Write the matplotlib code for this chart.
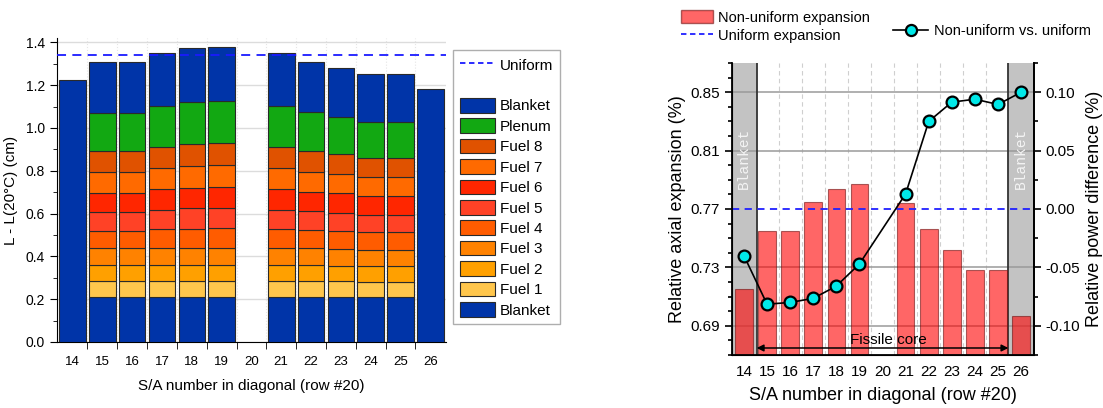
import numpy as np
import matplotlib
matplotlib.use('Agg')
import matplotlib.pyplot as plt
from matplotlib.patches import Patch
from matplotlib.lines import Line2D
from matplotlib.ticker import MultipleLocator, FormatStrFormatter

plt.rcParams['font.family'] = ['Liberation Sans', 'DejaVu Sans']

# ---- data: left panel (cumulative tops of stacked layers, cm) ----
sa = [14, 15, 16, 17, 18, 19, 20, 21, 22, 23, 24, 25, 26]
nan = np.nan
blanket_lo = [1.224, 0.210, 0.210, 0.210, 0.210, 0.210, nan, 0.210, 0.210, 0.210, 0.210, 0.210, 1.184]
fuel1 = [nan, 0.283, 0.283, 0.283, 0.283, 0.283, nan, 0.283, 0.283, 0.283, 0.280, 0.280, nan]
fuel2 = [nan, 0.358, 0.358, 0.358, 0.358, 0.358, nan, 0.358, 0.358, 0.357, 0.353, 0.353, nan]
fuel3 = [nan, 0.437, 0.437, 0.437, 0.438, 0.440, nan, 0.437, 0.437, 0.434, 0.431, 0.431, nan]
fuel4 = [nan, 0.518, 0.518, 0.527, 0.530, 0.532, nan, 0.527, 0.521, 0.518, 0.512, 0.512, nan]
fuel5 = [nan, 0.605, 0.605, 0.618, 0.624, 0.625, nan, 0.618, 0.611, 0.604, 0.594, 0.594, nan]
fuel6 = [nan, 0.697, 0.697, 0.714, 0.720, 0.725, nan, 0.714, 0.702, 0.695, 0.680, 0.680, nan]
fuel7 = [nan, 0.792, 0.792, 0.812, 0.823, 0.826, nan, 0.812, 0.796, 0.784, 0.770, 0.770, nan]
fuel8 = [nan, 0.890, 0.890, 0.913, 0.925, 0.929, nan, 0.913, 0.894, 0.877, 0.860, 0.860, nan]
plenum = [nan, 1.072, 1.072, 1.104, 1.120, 1.126, nan, 1.104, 1.075, 1.053, 1.030, 1.030, nan]
blanket_hi = [nan, 1.310, 1.310, 1.352, 1.372, 1.380, nan, 1.349, 1.310, 1.282, 1.252, 1.252, nan]
uniform_len = 1.342

layers = [blanket_lo, fuel1, fuel2, fuel3, fuel4, fuel5, fuel6, fuel7, fuel8, plenum, blanket_hi]
layer_names = ['Blanket', 'Fuel 1', 'Fuel 2', 'Fuel 3', 'Fuel 4', 'Fuel 5', 'Fuel 6',
               'Fuel 7', 'Fuel 8', 'Plenum', 'Blanket']
layer_colors = ['#0034A8', '#FFC64C', '#FFA000', '#FF8200', '#FF5C00', '#FF4226',
                '#FF2600', '#FF6A00', '#E05200', '#12A812', '#0034A8']

# ---- data: right panel ----
sa_bar = [14, 15, 16, 17, 18, 19, 21, 22, 23, 24, 25, 26]
rel_exp = [0.715, 0.755, 0.755, 0.775, 0.784, 0.787, 0.774, 0.756, 0.742, 0.728, 0.728, 0.697]
uniform_exp = 0.77
sa_line = [14, 15, 16, 17, 18, 19, 21, 22, 23, 24, 25, 26]
power_diff = [-0.040, -0.0815, -0.080, -0.0765, -0.066, -0.047, 0.013, 0.075, 0.0915, 0.094, 0.0895, 0.100]

fig = plt.figure(figsize=(11.03, 4.08), dpi=100)

# ================= left panel =================
ax = fig.add_axes([0.0517, 0.1618, 0.3525, 0.745])
prev = np.zeros(len(sa))
for top, name, col in zip(layers, layer_names, layer_colors):
    top = np.array(top, dtype=float)
    h = top - prev
    ok = np.isfinite(h)
    ax.bar(np.array(sa)[ok], h[ok], bottom=prev[ok], width=0.89, color=col,
           edgecolor='#2a2a2a', linewidth=0.8, zorder=3)
    prev = np.where(np.isfinite(top), top, prev)
ax.axhline(uniform_len, color='#1a1aff', ls=(0, (5, 3.5)), lw=1.3, zorder=4)

ax.set_xlim(13.48, 26.52)
ax.set_ylim(0, 1.42)
ax.set_xticks(sa)
ax.set_xticks(np.array(sa[:-1]) + 0.5, minor=True)
ax.tick_params(axis='x', which='major', length=0, labelsize=9.5, pad=10)
ax.tick_params(axis='x', which='minor', length=5, direction='out')
ax.yaxis.set_major_locator(MultipleLocator(0.2))
ax.yaxis.set_minor_locator(MultipleLocator(0.1))
ax.yaxis.set_major_formatter(FormatStrFormatter('%.1f'))
ax.tick_params(axis='y', which='major', length=5, labelsize=10)
ax.tick_params(axis='y', which='minor', length=3)
for s in ['top', 'right']:
    ax.spines[s].set_visible(False)
ax.grid(axis='y', which='major', color='#dcdcdc', lw=1)
ax.grid(axis='x', which='minor', color='#e6e6e6', lw=0.8, ls=':')
ax.set_axisbelow(True)
ax.set_xlabel('S/A number in diagonal (row #20)', fontsize=11, labelpad=8)
ax.set_ylabel('L - L(20°C) (cm)', fontsize=11, labelpad=6)

handles = [Line2D([], [], color='#1a1aff', ls=(0, (3, 2)), lw=1.3),
           Line2D([], [], ls='none')]
labels = ['Uniform', '']
for name, col in list(zip(layer_names, layer_colors))[::-1]:
    handles.append(Patch(facecolor=col, edgecolor='#2a2a2a', linewidth=0.8))
    labels.append(name)
leg = fig.legend(handles, labels, loc='upper left', bbox_to_anchor=(0.4107, 0.877),
                 fontsize=11, frameon=True, fancybox=False, edgecolor='#9a9a9a',
                 handlelength=2.3, handleheight=1.1, labelspacing=0.32,
                 handletextpad=0.3, borderpad=0.45, borderaxespad=0)
leg.get_frame().set_linewidth(1.0)

# ================= right panel =================
ax2 = fig.add_axes([0.6634, 0.1299, 0.2741, 0.7157])
ax2.set_xlim(13.47, 26.56)
ax2.set_ylim(0.67, 0.87)
ax2.axvspan(13.47, 14.55, color='#c3c3c3', zorder=1, lw=0)
ax2.axvspan(25.45, 26.56, color='#c3c3c3', zorder=1, lw=0)
ax2.axvline(14.55, color='#333333', lw=1.3, zorder=1.5)
ax2.axvline(25.45, color='#333333', lw=1.3, zorder=1.5)
for xv in np.array(sa[1:-2]) + 0.5:
    ax2.axvline(xv, color='#cfcfcf', lw=0.8, ls=(0, (4, 3)), zorder=0.5)
for yv in [0.69, 0.73, 0.81, 0.85]:
    ax2.axhline(yv, color='#9a9a9a', lw=1.1, zorder=1.2)
ax2.bar(sa_bar, rel_exp, width=0.76, color='red', alpha=0.6, edgecolor='#701010',
        linewidth=0.8, zorder=2)
ax2.axhline(uniform_exp, color='#2020ff', ls=(0, (4, 3)), lw=1.3, zorder=2.5)

ax2.text(14.0, 0.805, 'Blanket', rotation=90, ha='center', va='center',
         family='Liberation Mono', fontsize=10.5, color='#f4f4f4', zorder=3)
ax2.text(26.0, 0.805, 'Blanket', rotation=90, ha='center', va='center',
         family='Liberation Mono', fontsize=10.5, color='#f4f4f4', zorder=3)
ax2.annotate('', xy=(14.55, 0.6748), xytext=(25.45, 0.6748),
             arrowprops=dict(arrowstyle='<|-|>', color='black', lw=1.1,
                             mutation_scale=10, shrinkA=0, shrinkB=0), zorder=3)
ax2.text(20.25, 0.6755, 'Fissile core', ha='center', va='bottom', fontsize=11, zorder=3)

ax2.set_xticks(sa)
ax2.tick_params(axis='x', length=0, labelsize=11, pad=7)
ax2.set_yticks([0.69, 0.73, 0.77, 0.81, 0.85])
ax2.yaxis.set_minor_locator(MultipleLocator(0.01))
ax2.yaxis.set_major_formatter(FormatStrFormatter('%.2f'))
ax2.tick_params(axis='y', which='major', length=5, width=1.2, labelsize=11)
ax2.tick_params(axis='y', which='minor', length=3, width=1.2)
ax2.spines['top'].set_visible(False)
for s in ['left', 'bottom', 'right']:
    ax2.spines[s].set_linewidth(1.3)
ax2.set_xlabel('S/A number in diagonal (row #20)', fontsize=13, labelpad=6)
ax2.set_ylabel('Relative axial expansion (%)', fontsize=13, labelpad=3)

ax3 = ax2.twinx()
ax3.set_ylim(-0.125, 0.125)
ax3.plot(sa_line, power_diff, color='black', lw=1.2, marker='o', ms=8.5,
         mfc='#00E8E8', mec='black', mew=1.6, zorder=5)
ax3.set_yticks([-0.10, -0.05, 0.00, 0.05, 0.10])
ax3.yaxis.set_minor_locator(MultipleLocator(0.025))
ax3.yaxis.set_major_formatter(FormatStrFormatter('%.2f'))
ax3.tick_params(axis='y', which='major', length=5, width=1.2, labelsize=11)
ax3.tick_params(axis='y', which='minor', length=3, width=1.2)
ax3.spines['top'].set_visible(False)
ax3.spines['right'].set_linewidth(1.3)
ax3.set_ylabel('Relative power difference (%)', fontsize=13, labelpad=4)

leg1 = fig.legend([Patch(facecolor='red', alpha=0.6, edgecolor='#701010'),
                   Line2D([], [], color='#2020ff', ls=(0, (3, 2)), lw=1.3)],
                  ['Non-uniform expansion', 'Uniform expansion'],
                  loc='upper left', bbox_to_anchor=(0.617, 0.975), fontsize=10.5,
                  frameon=False, handlelength=2.2, handleheight=1.0,
                  labelspacing=0.25, handletextpad=0.4, borderpad=0, borderaxespad=0)
leg2 = fig.legend([Line2D([], [], color='black', lw=1.2, marker='o', ms=8,
                          mfc='#00E8E8', mec='black', mew=1.6)],
                  ['Non-uniform vs. uniform'],
                  loc='upper left', bbox_to_anchor=(0.81, 0.94), fontsize=10.5,
                  frameon=False, handlelength=2.4, handletextpad=0.4,
                  borderpad=0, borderaxespad=0)

fig.savefig('out.png', dpi=100)
